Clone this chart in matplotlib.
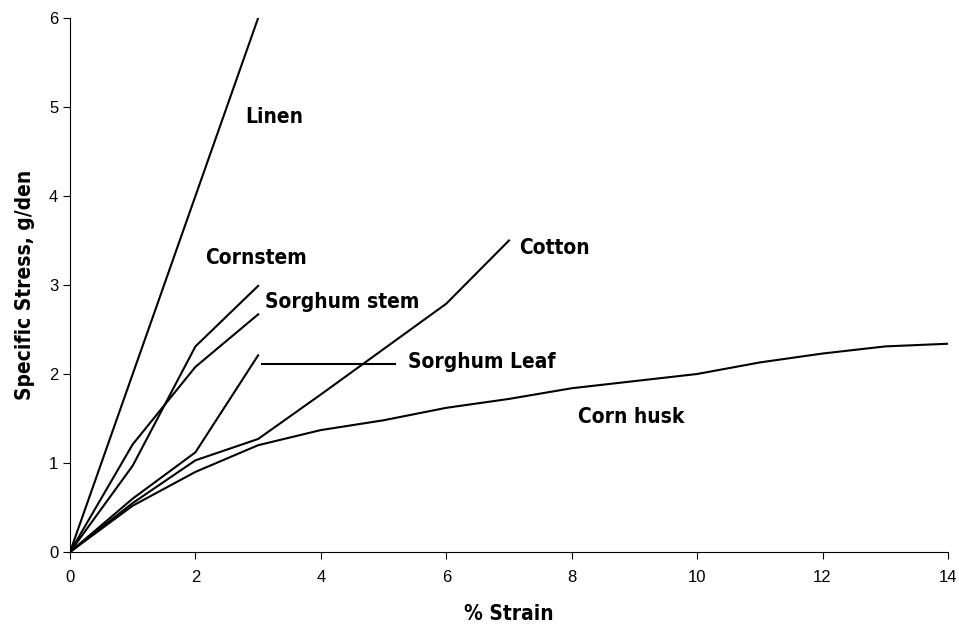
import matplotlib.pyplot as plt

# % strain vs specific stress (g/den)
linen_x = [0, 1, 2, 3]
linen_y = [0, 2.0, 4.0, 6.0]

cornstem_x = [0, 1, 2, 3]
cornstem_y = [0, 0.97, 2.31, 2.99]

sorghum_stem_x = [0, 1, 2, 3]
sorghum_stem_y = [0, 1.21, 2.08, 2.67]

sorghum_leaf_x = [0, 1, 2, 3]
sorghum_leaf_y = [0, 0.6, 1.12, 2.21]

cotton_x = [0, 1, 2, 3, 4, 5, 6, 7]
cotton_y = [0, 0.55, 1.03, 1.27, 1.77, 2.28, 2.79, 3.5]

husk_x = [0, 1, 2, 3, 4, 5, 6, 7, 8, 9, 10, 11, 12, 13, 14]
husk_y = [0, 0.52, 0.9, 1.2, 1.37, 1.48, 1.62, 1.72, 1.84, 1.92, 2.0, 2.13, 2.23, 2.31, 2.34]

labels = ["Linen", "Cornstem", "Sorghum stem", "Sorghum Leaf", "Cotton", "Corn husk"]
label_x = [2.79, 2.15, 3.11, 5.39, 7.16, 8.1]
label_y = [4.89, 3.3, 2.81, 2.13, 3.42, 1.52]

plt.rcParams["font.family"] = ["Liberation Sans", "DejaVu Sans"]

fig = plt.figure(figsize=(9.59, 6.25), dpi=100)
ax = fig.add_axes([0.073, 0.1168, 0.9155, 0.8544])

for xs, ys in [(linen_x, linen_y), (cornstem_x, cornstem_y), (sorghum_stem_x, sorghum_stem_y),
               (sorghum_leaf_x, sorghum_leaf_y), (cotton_x, cotton_y), (husk_x, husk_y)]:
    ax.plot(xs, ys, color="black", lw=1.5)

# leader line for sorghum leaf
ax.plot([3.06, 5.18], [2.11, 2.11], color="black", lw=1.5)

lab_kw = dict(family="DejaVu Sans", fontstretch="condensed", fontweight="bold", fontsize=15)
for t, x, y in zip(labels, label_x, label_y):
    ax.text(x, y, t, va="center", ha="left", **lab_kw)

ax.set_xlim(0, 14)
ax.set_ylim(0, 6)
ax.set_xticks(range(0, 15, 2))
ax.set_yticks(range(0, 7))
ax.spines["top"].set_visible(False)
ax.spines["right"].set_visible(False)
ax.tick_params(direction="out", length=5, labelsize=12)
ax.tick_params(axis="x", pad=8)
ax.set_xlabel("% Strain", labelpad=14, **lab_kw)
ax.set_ylabel("Specific Stress, g/den", labelpad=10, **lab_kw)

fig.savefig("out.png", dpi=100)
